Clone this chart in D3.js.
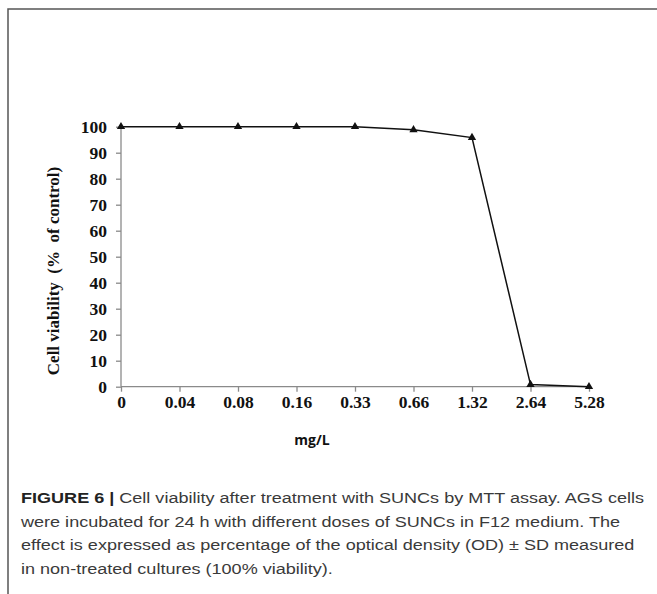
<!DOCTYPE html>
<html>
<head>
<meta charset="utf-8">
<script src="https://cdn.jsdelivr.net/npm/d3@7"></script>
<style>
  body { margin: 0; background: #fff; }
  svg { display: block; }
</style>
</head>
<body>
<div id="svg-container"></div>
<script>
// data
const doses = ["0", "0.04", "0.08", "0.16", "0.33", "0.66", "1.32", "2.64", "5.28"];
const viability = [100, 100, 100, 100, 100, 98.8, 95.8, 0.8, 0];
const yTicks = [0, 10, 20, 30, 40, 50, 60, 70, 80, 90, 100];
const captionLines = [
  "Cell viability after treatment with SUNCs by MTT assay. AGS cells",
  "were incubated for 24 h with different doses of SUNCs in F12 medium. The",
  "effect is expressed as percentage of the optical density (OD) \u00b1 SD measured",
  "in non-treated cultures (100% viability)."
];

const width = 657;
const height = 594;
const margin = { top: 126.7, right: 68, bottom: 207.3, left: 121 };

const svg = d3.select("#svg-container").append("svg")
  .attr("width", width)
  .attr("height", height);

// frame
svg.append("path")
  .attr("d", `M${width + 2},9 H8 V${height + 2}`)
  .attr("fill", "none")
  .attr("stroke", "#555")
  .attr("stroke-width", 1.5);

// scales
const xScale = d3.scalePoint()
  .domain(doses)
  .range([margin.left, width - margin.right]);

const yScale = d3.scaleLinear()
  .domain([0, 100])
  .range([height - margin.bottom, margin.top]);

// axes
const xAxis = d3.axisBottom(xScale).tickSize(5).tickPadding(4);
const yAxis = d3.axisLeft(yScale).tickValues(yTicks).tickSize(5).tickPadding(9);

const gx = svg.append("g")
  .attr("transform", `translate(0,${yScale(0)})`)
  .call(xAxis);

const gy = svg.append("g")
  .attr("transform", `translate(${margin.left},0)`)
  .call(yAxis);

[gx, gy].forEach((g) => {
  g.select(".domain").attr("stroke", "#8a8a8a").attr("stroke-width", 1.3);
  g.selectAll(".tick line").attr("stroke", "#8a8a8a").attr("stroke-width", 1.3);
  g.selectAll(".tick text")
    .attr("fill", "#111")
    .style("font-family", "'Liberation Serif', 'Times New Roman', serif")
    .style("font-weight", "bold")
    .style("font-size", "17.5px");
});
gx.select(".domain").attr("d", `M${xScale(doses[0])},0H${xScale(doses[doses.length - 1])}`);
gy.select(".domain").attr("d", `M0,${yScale(0)}V${yScale(100)}`);

// axis titles
svg.append("text")
  .attr("transform", `translate(55,271) rotate(-90)`)
  .attr("text-anchor", "middle")
  .attr("dominant-baseline", "middle")
  .style("font-family", "'Liberation Serif', 'Times New Roman', serif")
  .style("font-weight", "bold")
  .style("font-size", "17px")
  .attr("fill", "#111")
  .attr("xml:space", "preserve")
  .text("Cell viability  (%  of control)");

svg.append("text")
  .attr("x", 312)
  .attr("y", 445)
  .attr("text-anchor", "middle")
  .style("font-family", "'Open Sans', 'Liberation Sans', sans-serif")
  .style("font-weight", "bold")
  .style("font-size", "14px")
  .attr("fill", "#111")
  .text("mg/L");

// line
const points = doses.map((d, i) => ({ dose: d, v: viability[i] }));

svg.append("path")
  .datum(points)
  .attr("fill", "none")
  .attr("stroke", "#111")
  .attr("stroke-width", 1.5)
  .attr("d", d3.line().x((d) => xScale(d.dose)).y((d) => yScale(d.v)));

svg.selectAll(".marker")
  .data(points)
  .enter()
  .append("path")
  .attr("class", "marker")
  .attr("transform", (d) => `translate(${xScale(d.dose)},${yScale(d.v)})`)
  .attr("d", d3.symbol().type(d3.symbolTriangle).size(30))
  .attr("fill", "#111");

// caption (stretched so the first line ends where the reference's does)
const captionLeft = 21;
const captionRight = 644;
const rows = captionLines.map((line, i) => {
  const t = svg.append("text")
    .attr("x", captionLeft)
    .attr("y", 503 + i * 23.6)
    .style("font-family", "'Liberation Sans', Arial, sans-serif")
    .style("font-size", "15.5px")
    .attr("fill", "#3a3a3a");
  if (i === 0) {
    t.append("tspan").style("font-weight", "bold").attr("fill", "#222").text("FIGURE 6 | ");
  }
  t.append("tspan").text(line);
  return t;
});
const k = (captionRight - captionLeft) / rows[0].node().getComputedTextLength();
rows.forEach((t) => {
  t.attr("textLength", t.node().getComputedTextLength() * k)
    .attr("lengthAdjust", "spacingAndGlyphs");
});
</script>
</body>
</html>
